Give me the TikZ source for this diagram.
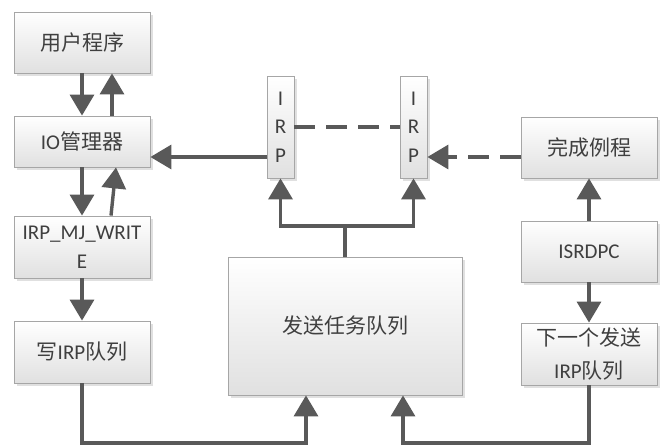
\documentclass[tikz,border=0pt]{standalone}
\usepackage{fontspec}
\setmainfont{Carlito}
\newfontfamily\cjk{Noto Sans CJK SC}
\usetikzlibrary{arrows.meta,shadows,calc}
\definecolor{linec}{HTML}{595959}
\definecolor{txtc}{HTML}{3F3F3F}
\definecolor{bordc}{HTML}{A6A6A6}
\newcommand\zh[1]{{\cjk #1}}
\begin{document}
\begin{tikzpicture}[x=1pt,y=-1pt,
 box/.style={draw=bordc,line width=0.8pt,top color=white,bottom color=black!12,
   drop shadow={shadow xshift=3pt,shadow yshift=-3pt,fill=black!12,opacity=1},
   text=txtc,font=\fontsize{21}{29}\selectfont,align=center,inner sep=1pt,
   minimum width=136pt,minimum height=61pt},
 conn/.style={draw=linec,line width=3.4pt},
 tipx/.tip={Triangle[width=24pt,length=21pt]},
 arr/.style={conn,-tipx},
 dsh/.style={conn,dash pattern=on 21pt off 11pt}]
\useasboundingbox (0,0) rectangle (666,446);
% left column
\node[box] (up) at (82,42.5) {\zh{用户程序}};
\node[box,minimum height=51pt] (io) at (82,141.5) {IO\zh{管理器}};
\node[box,minimum height=62pt] (mj) at (82,247) {IRP\_MJ\_WRIT\\E};
\node[box,minimum height=62pt] (wq) at (82,352) {\zh{写}IRP\zh{队列}};
% center
\node[box,minimum width=234pt,minimum height=138pt] (send) at (345,326) {\zh{发送任务队列}};
\node[box,minimum width=27pt,minimum height=102pt,font=\fontsize{21}{28.5}\selectfont] (irp1) at (280.5,127) {I\\R\\P};
\node[box,minimum width=27pt,minimum height=102pt,font=\fontsize{21}{28.5}\selectfont] (irp2) at (413.5,127) {I\\R\\P};
% right column
\node[box] (done) at (589,147.5) {\zh{完成例程}};
\node[box] (isr) at (589,251.5) {ISRDPC};
\node[box,minimum height=62pt,font=\fontsize{21}{33}\selectfont] (next) at (589,354) {\zh{下一个发送}\\IRP\zh{队列}};
% left column connectors
\draw[arr] (up.south) -- (io.north);
\draw[arr] ([xshift=30pt]io.north) -- ([xshift=30pt]up.south);
\draw[arr] (io.south) -- (mj.north);
\draw[arr] ([xshift=29pt]mj.north) -- ([xshift=34pt]io.south);
\draw[arr] (mj.south) -- (wq.north);
\coordinate (b1) at (306,443);
\coordinate (b2) at (403,443);
\draw[arr] (wq.south) |- (b1) -- (b1 |- send.south);
\draw[arr] (next.south) |- (b2) -- (b2 |- send.south);
% send to IRPs
\coordinate (j) at (345,226);
\draw[conn] (send.north) -- (j);
\draw[arr] (j) -| (irp1.south);
\draw[arr] (j) -| (irp2.south);
% IRP to IO
\coordinate (pL) at ([yshift=-30pt]irp1.west);
\coordinate (pR) at ([yshift=-30pt]irp2.east);
\draw[arr] (pL) -- (pL -| io.east);
\draw[dsh] (irp1.east) -- (irp2.west);
\draw[dsh,-tipx] (pR -| done.west) -- (pR);
% right column
\draw[arr] (isr.north) -- (done.south);
\draw[arr] (isr.south) -- (next.north);
\end{tikzpicture}
\end{document}
